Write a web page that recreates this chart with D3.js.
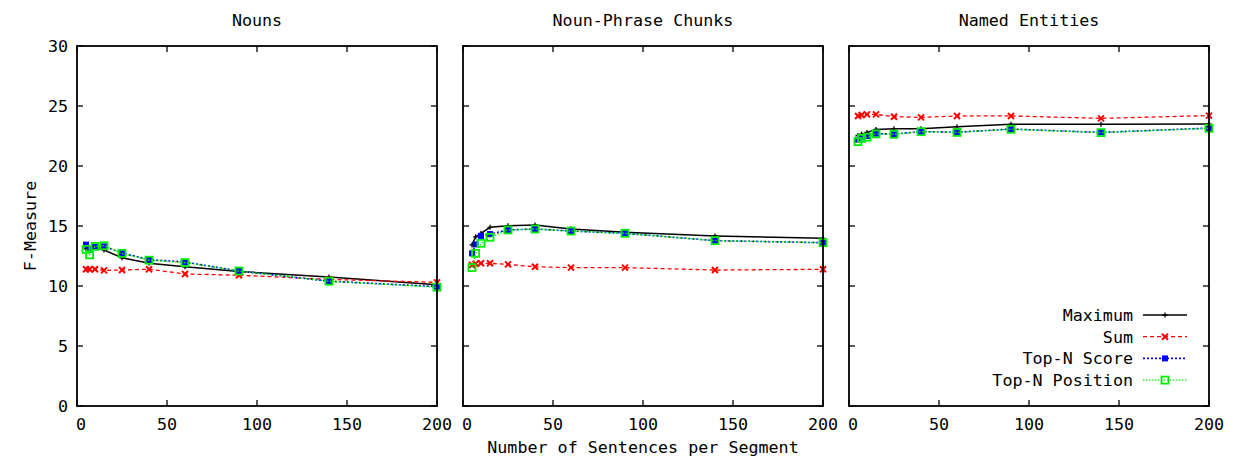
<!DOCTYPE html>
<html><head><meta charset="utf-8">
<script src="https://cdn.jsdelivr.net/npm/d3@7"></script>
<style>body{margin:0;background:#fff}svg{display:block}text{font-family:"DejaVu Sans Mono",monospace;fill:#000}</style>
</head><body><svg id="c" width="1239" height="457"></svg>
<script>
const xValues = [5, 7, 10, 15, 25, 40, 60, 90, 140, 200];
const panelTitles = ["Nouns", "Noun-Phrase Chunks", "Named Entities"];
const seriesNames = ["Maximum", "Sum", "Top-N Score", "Top-N Position"];
const yTicks = [0, 5, 10, 15, 20, 25, 30];
const xTicks = [0, 50, 100, 150, 200];

const nounsMax = [13.1, 13.2, 13.2, 13.0, 12.35, 11.9, 11.6, 11.2, 10.75, 10.1];
const nounsSum = [11.4, 11.4, 11.4, 11.3, 11.33, 11.4, 11.0, 10.9, 10.55, 10.3];
const nounsScore = [13.45, 13.0, 13.25, 13.3, 12.75, 12.2, 12.0, 11.25, 10.4, 9.95];
const nounsPos = [13.05, 12.6, 13.3, 13.35, 12.72, 12.15, 11.95, 11.25, 10.4, 9.9];

const npMax = [13.42, 14.1, 14.39, 14.89, 15.03, 15.08, 14.75, 14.47, 14.17, 13.97];
const npSum = [11.75, 11.85, 11.89, 11.89, 11.8, 11.6, 11.53, 11.53, 11.33, 11.39];
const npScore = [12.72, 13.47, 14.17, 14.33, 14.67, 14.75, 14.58, 14.39, 13.78, 13.61];
const npPos = [11.53, 12.72, 13.56, 14.06, 14.67, 14.75, 14.58, 14.39, 13.78, 13.61];

const neMax = [22.55, 22.65, 22.8, 23.05, 23.11, 23.11, 23.28, 23.47, 23.47, 23.5];
const neSum = [24.17, 24.25, 24.3, 24.3, 24.11, 24.05, 24.17, 24.17, 23.97, 24.2];
const neScore = [22.2, 22.4, 22.5, 22.7, 22.66, 22.87, 22.82, 23.08, 22.8, 23.16];
const nePos = [22.03, 22.3, 22.4, 22.67, 22.64, 22.86, 22.8, 23.06, 22.78, 23.14];

const panels = [
  [nounsMax, nounsSum, nounsScore, nounsPos],
  [npMax, npSum, npScore, npPos],
  [neMax, neSum, neScore, nePos]
];
const posGreen = "#00ee00";
const fs = 16.7;

const svg = d3.select("#c");
const plotTop = 46, plotBottom = 406, pw = 360, left0 = 77, gap = 386;
const y = d3.scaleLinear().domain([0, 30]).range([plotBottom, plotTop]);

function marker(g, k, px, py) {
  if (k === 0) {
    g.append("path").attr("d", `M${px-2.5},${py}H${px+2.5}M${px},${py-2.5}V${py+2.5}`)
      .attr("stroke", "#000").attr("stroke-width", 1.3);
  } else if (k === 1) {
    g.append("path").attr("d", `M${px-3},${py-3}L${px+3},${py+3}M${px-3},${py+3}L${px+3},${py-3}`)
      .attr("stroke", "#ff0000").attr("stroke-width", 2);
  } else if (k === 2) {
    g.append("rect").attr("x", px-3).attr("y", py-3).attr("width", 6).attr("height", 6).attr("fill", "#0000ff");
  } else {
    g.append("rect").attr("x", px-3.5).attr("y", py-3.5).attr("width", 7).attr("height", 7)
      .attr("fill", "none").attr("stroke", posGreen).attr("stroke-width", 1.8);
  }
}
const dashes = [null, "4,3", "2,2", "1.5,1.5"];
const lineColors = ["#000", "#ff0000", "#0000ff", posGreen];
const lineWidths = [1.5, 1.3, 1.6, 1.4];

panels.forEach((series, p) => {
  const x0 = left0 + gap * p;
  const x = d3.scaleLinear().domain([0, 200]).range([x0, x0 + pw]);
  const g = svg.append("g");
  const tl = 6;
  xTicks.forEach(t => {
    g.append("line").attr("x1", x(t)).attr("x2", x(t)).attr("y1", plotBottom).attr("y2", plotBottom - tl).attr("stroke", "#000").attr("stroke-width", 1.3);
    g.append("line").attr("x1", x(t)).attr("x2", x(t)).attr("y1", plotTop).attr("y2", plotTop + tl).attr("stroke", "#000").attr("stroke-width", 1.3);
    g.append("text").attr("x", x(t) + (t === 0 ? 4 : 0)).attr("y", plotBottom + 24).attr("text-anchor", "middle").attr("font-size", fs).text(t);
  });
  yTicks.forEach(t => {
    g.append("line").attr("x1", x0).attr("x2", x0 + tl).attr("y1", y(t)).attr("y2", y(t)).attr("stroke", "#000").attr("stroke-width", 1.3);
    g.append("line").attr("x1", x0 + pw).attr("x2", x0 + pw - tl).attr("y1", y(t)).attr("y2", y(t)).attr("stroke", "#000").attr("stroke-width", 1.3);
    if (p === 0) g.append("text").attr("x", 68).attr("y", y(t) + 6).attr("text-anchor", "end").attr("font-size", fs).text(t);
  });
  g.append("text").attr("x", x0 + pw / 2).attr("y", 26).attr("text-anchor", "middle").attr("font-size", fs).text(panelTitles[p]);
  series.forEach((vals, k) => {
    const line = d3.line().x((d, i) => x(xValues[i])).y(d => y(d));
    g.append("path").datum(vals).attr("d", line).attr("fill", "none")
      .attr("stroke", lineColors[k]).attr("stroke-width", lineWidths[k])
      .attr("stroke-dasharray", dashes[k]);
    vals.forEach((v, i) => marker(g, k, x(xValues[i]), y(v)));
  });
  g.append("rect").attr("x", x0).attr("y", plotTop).attr("width", pw).attr("height", plotBottom - plotTop)
    .attr("fill", "none").attr("stroke", "#000").attr("stroke-width", 1.8);
});

const lg = svg.append("g");
seriesNames.forEach((n, k) => {
  const ly = 315 + k * 21.7;
  lg.append("text").attr("x", 1133).attr("y", ly + 6).attr("text-anchor", "end").attr("font-size", fs).text(n);
  lg.append("line").attr("x1", 1143).attr("x2", 1187).attr("y1", ly).attr("y2", ly)
    .attr("stroke", lineColors[k]).attr("stroke-width", lineWidths[k]).attr("stroke-dasharray", dashes[k]);
  marker(lg, k, 1165, ly);
});

svg.append("text").attr("x", 643).attr("y", 453).attr("text-anchor", "middle").attr("font-size", fs).text("Number of Sentences per Segment");
svg.append("text").attr("transform", "translate(36,226) rotate(-90)").attr("text-anchor", "middle").attr("font-size", fs).text("F-Measure");
</script></body></html>
